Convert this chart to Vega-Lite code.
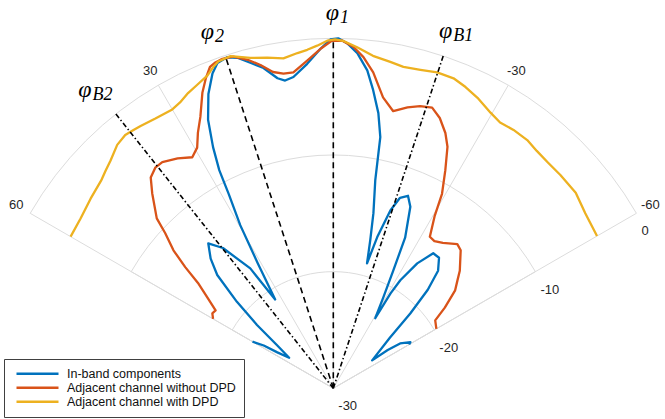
{
  "$schema": "https://vega.github.io/schema/vega-lite/v6.json",
  "width": 665,
  "height": 419,
  "autosize": "none",
  "padding": 0,
  "background": "white",
  "config": {"view": {"stroke": null}},
  "datasets": {
    "curves": [
      {"s":"In-band components","a":60,"v":-22.0},{"s":"In-band components","a":58.4,"v":-23.0},{"s":"In-band components","a":57.3,"v":-24.3},{"s":"In-band components","a":55.4,"v":-25.4},{"s":"In-band components","a":52.5,"v":-23.9},{"s":"In-band components","a":50.3,"v":-21.5},{"s":"In-band components","a":48.1,"v":-18.9},{"s":"In-band components","a":45.7,"v":-16.1},{"s":"In-band components","a":43.4,"v":-14.7},{"s":"In-band components","a":40.8,"v":-13.6},{"s":"In-band components","a":38.2,"v":-14.7},{"s":"In-band components","a":34.7,"v":-17.5},{"s":"In-band components","a":33.2,"v":-20.9},{"s":"In-band components","a":31.1,"v":-17.4},{"s":"In-band components","a":29.7,"v":-13.9},{"s":"In-band components","a":28.3,"v":-11.1},{"s":"In-band components","a":27.6,"v":-8.9},{"s":"In-band components","a":26.5,"v":-6.9},{"s":"In-band components","a":25.0,"v":-4.6},{"s":"In-band components","a":23.0,"v":-2.6},{"s":"In-band components","a":21.0,"v":-1.1},{"s":"In-band components","a":19.6,"v":-0.4},{"s":"In-band components","a":17.8,"v":-0.2},{"s":"In-band components","a":16.2,"v":-0.5},{"s":"In-band components","a":14.3,"v":-1.2},{"s":"In-band components","a":12.3,"v":-1.9},{"s":"In-band components","a":10.2,"v":-3.0},{"s":"In-band components","a":8.9,"v":-3.3},{"s":"In-band components","a":7.3,"v":-3.1},{"s":"In-band components","a":4.6,"v":-2.1},{"s":"In-band components","a":2.2,"v":-0.9},{"s":"In-band components","a":0.5,"v":-0.1},{"s":"In-band components","a":-0.8,"v":0},{"s":"In-band components","a":-2.3,"v":-0.4},{"s":"In-band components","a":-4.1,"v":-1.2},{"s":"In-band components","a":-6.1,"v":-2.6},{"s":"In-band components","a":-7.6,"v":-4.2},{"s":"In-band components","a":-9.3,"v":-6.1},{"s":"In-band components","a":-10.6,"v":-8.1},{"s":"In-band components","a":-11.4,"v":-11.8},{"s":"In-band components","a":-12.9,"v":-14.6},{"s":"In-band components","a":-14.0,"v":-16.9},{"s":"In-band components","a":-15.1,"v":-18.9},{"s":"In-band components","a":-16.2,"v":-16.5},{"s":"In-band components","a":-17.8,"v":-14.0},{"s":"In-band components","a":-19.3,"v":-12.7},{"s":"In-band components","a":-21.2,"v":-12.3},{"s":"In-band components","a":-23.0,"v":-13.1},{"s":"In-band components","a":-25.5,"v":-15.7},{"s":"In-band components","a":-27.0,"v":-18.7},{"s":"In-band components","a":-28.8,"v":-21.1},{"s":"In-band components","a":-30.9,"v":-23.0},{"s":"In-band components","a":-31.1,"v":-20.5},{"s":"In-band components","a":-31.8,"v":-19.1},{"s":"In-band components","a":-33.9,"v":-17.1},{"s":"In-band components","a":-36.5,"v":-15.6},{"s":"In-band components","a":-39.0,"v":-15.6},{"s":"In-band components","a":-41.7,"v":-16.5},{"s":"In-band components","a":-43.8,"v":-18.3},{"s":"In-band components","a":-45.8,"v":-20.8},{"s":"In-band components","a":-48.2,"v":-23.5},{"s":"In-band components","a":-54.3,"v":-25.9},{"s":"In-band components","a":-54.9,"v":-24.3},{"s":"In-band components","a":-56.1,"v":-23.1},{"s":"In-band components","a":-59.1,"v":-22.3},{"s":"In-band components","a":-60,"v":-22.5},
      {"s":"Adjacent channel without DPD","a":60,"v":-18.1},{"s":"Adjacent channel without DPD","a":58.2,"v":-17.8},{"s":"Adjacent channel without DPD","a":56.5,"v":-17.9},{"s":"Adjacent channel without DPD","a":54.2,"v":-16.7},{"s":"Adjacent channel without DPD","a":52.1,"v":-15.3},{"s":"Adjacent channel without DPD","a":50.7,"v":-13.6},{"s":"Adjacent channel without DPD","a":49.2,"v":-11.9},{"s":"Adjacent channel without DPD","a":47.3,"v":-10.4},{"s":"Adjacent channel without DPD","a":46.1,"v":-9.0},{"s":"Adjacent channel without DPD","a":42.9,"v":-7.2},{"s":"Adjacent channel without DPD","a":40.9,"v":-6.1},{"s":"Adjacent channel without DPD","a":38.9,"v":-5.7},{"s":"Adjacent channel without DPD","a":37.1,"v":-5.7},{"s":"Adjacent channel without DPD","a":34.1,"v":-6.2},{"s":"Adjacent channel without DPD","a":31.4,"v":-6.8},{"s":"Adjacent channel without DPD","a":29.5,"v":-6.3},{"s":"Adjacent channel without DPD","a":27.9,"v":-5.2},{"s":"Adjacent channel without DPD","a":26.1,"v":-4.1},{"s":"Adjacent channel without DPD","a":23.9,"v":-2.3},{"s":"Adjacent channel without DPD","a":22.4,"v":-1.3},{"s":"Adjacent channel without DPD","a":21.0,"v":-0.5},{"s":"Adjacent channel without DPD","a":19.9,"v":-0.3},{"s":"Adjacent channel without DPD","a":18.6,"v":-0.2},{"s":"Adjacent channel without DPD","a":16.8,"v":-0.3},{"s":"Adjacent channel without DPD","a":14.6,"v":-0.9},{"s":"Adjacent channel without DPD","a":12.7,"v":-1.6},{"s":"Adjacent channel without DPD","a":10.8,"v":-2.4},{"s":"Adjacent channel without DPD","a":9.0,"v":-2.7},{"s":"Adjacent channel without DPD","a":7.2,"v":-2.7},{"s":"Adjacent channel without DPD","a":4.5,"v":-1.8},{"s":"Adjacent channel without DPD","a":2.2,"v":-0.9},{"s":"Adjacent channel without DPD","a":0.2,"v":-0.2},{"s":"Adjacent channel without DPD","a":-1.5,"v":-0.2},{"s":"Adjacent channel without DPD","a":-3.4,"v":-0.7},{"s":"Adjacent channel without DPD","a":-5.2,"v":-1.5},{"s":"Adjacent channel without DPD","a":-7.2,"v":-2.7},{"s":"Adjacent channel without DPD","a":-9.7,"v":-4.7},{"s":"Adjacent channel without DPD","a":-12.2,"v":-5.7},{"s":"Adjacent channel without DPD","a":-14.8,"v":-5.1},{"s":"Adjacent channel without DPD","a":-17.1,"v":-4.7},{"s":"Adjacent channel without DPD","a":-19.4,"v":-4.5},{"s":"Adjacent channel without DPD","a":-21.5,"v":-5.1},{"s":"Adjacent channel without DPD","a":-23.7,"v":-6.1},{"s":"Adjacent channel without DPD","a":-25.3,"v":-7.1},{"s":"Adjacent channel without DPD","a":-27.2,"v":-9.0},{"s":"Adjacent channel without DPD","a":-29.2,"v":-10.9},{"s":"Adjacent channel without DPD","a":-30.5,"v":-12.9},{"s":"Adjacent channel without DPD","a":-32.5,"v":-14.6},{"s":"Adjacent channel without DPD","a":-34.5,"v":-14.7},{"s":"Adjacent channel without DPD","a":-37.0,"v":-14.4},{"s":"Adjacent channel without DPD","a":-40.7,"v":-13.7},{"s":"Adjacent channel without DPD","a":-42.7,"v":-13.9},{"s":"Adjacent channel without DPD","a":-47.1,"v":-15.2},{"s":"Adjacent channel without DPD","a":-49.0,"v":-15.9},{"s":"Adjacent channel without DPD","a":-51.2,"v":-16.6},{"s":"Adjacent channel without DPD","a":-54.1,"v":-18.2},{"s":"Adjacent channel without DPD","a":-56.3,"v":-19.5},{"s":"Adjacent channel without DPD","a":-60,"v":-19.8},
      {"s":"Adjacent channel with DPD","a":60,"v":-4.0},{"s":"Adjacent channel with DPD","a":56.1,"v":-3.9},{"s":"Adjacent channel with DPD","a":52.0,"v":-3.6},{"s":"Adjacent channel with DPD","a":48.2,"v":-3.3},{"s":"Adjacent channel with DPD","a":46.3,"v":-3.0},{"s":"Adjacent channel with DPD","a":44.4,"v":-2.7},{"s":"Adjacent channel with DPD","a":41.6,"v":-2.1},{"s":"Adjacent channel with DPD","a":39.4,"v":-1.9},{"s":"Adjacent channel with DPD","a":37.9,"v":-2.0},{"s":"Adjacent channel with DPD","a":36.3,"v":-2.1},{"s":"Adjacent channel with DPD","a":33.4,"v":-2.3},{"s":"Adjacent channel with DPD","a":30.0,"v":-2.4},{"s":"Adjacent channel with DPD","a":28.2,"v":-2.2},{"s":"Adjacent channel with DPD","a":26.2,"v":-1.8},{"s":"Adjacent channel with DPD","a":24.2,"v":-1.5},{"s":"Adjacent channel with DPD","a":21.9,"v":-1.1},{"s":"Adjacent channel with DPD","a":20.5,"v":-0.6},{"s":"Adjacent channel with DPD","a":19.4,"v":-0.3},{"s":"Adjacent channel with DPD","a":17.2,"v":-0.2},{"s":"Adjacent channel with DPD","a":14.1,"v":-0.8},{"s":"Adjacent channel with DPD","a":11.3,"v":-1.1},{"s":"Adjacent channel with DPD","a":8.6,"v":-1.4},{"s":"Adjacent channel with DPD","a":6.1,"v":-1.1},{"s":"Adjacent channel with DPD","a":4.4,"v":-0.9},{"s":"Adjacent channel with DPD","a":2.7,"v":-0.6},{"s":"Adjacent channel with DPD","a":1.0,"v":-0.2},{"s":"Adjacent channel with DPD","a":-0.3,"v":-0.1},{"s":"Adjacent channel with DPD","a":-1.6,"v":-0.2},{"s":"Adjacent channel with DPD","a":-4.0,"v":-0.7},{"s":"Adjacent channel with DPD","a":-6.8,"v":-1.3},{"s":"Adjacent channel with DPD","a":-9.9,"v":-1.6},{"s":"Adjacent channel with DPD","a":-12.3,"v":-1.8},{"s":"Adjacent channel with DPD","a":-15.3,"v":-1.7},{"s":"Adjacent channel with DPD","a":-18.2,"v":-1.5},{"s":"Adjacent channel with DPD","a":-21.2,"v":-1.5},{"s":"Adjacent channel with DPD","a":-23.7,"v":-1.8},{"s":"Adjacent channel with DPD","a":-26.4,"v":-2.2},{"s":"Adjacent channel with DPD","a":-29.7,"v":-2.8},{"s":"Adjacent channel with DPD","a":-32.1,"v":-3.1},{"s":"Adjacent channel with DPD","a":-34.9,"v":-3.0},{"s":"Adjacent channel with DPD","a":-38.0,"v":-3.0},{"s":"Adjacent channel with DPD","a":-40.6,"v":-3.2},{"s":"Adjacent channel with DPD","a":-43.6,"v":-3.3},{"s":"Adjacent channel with DPD","a":-46.8,"v":-3.3},{"s":"Adjacent channel with DPD","a":-51.1,"v":-3.3},{"s":"Adjacent channel with DPD","a":-55.2,"v":-3.7},{"s":"Adjacent channel with DPD","a":-60,"v":-3.9}
    ]
  },
  "layer": [
    {
      "data": {"values": [{"v": 0}, {"v": -10}, {"v": -20}]},
      "transform": [
        {"calculate": "(datum.v+30)/30", "as": "rn"},
        {"calculate": "0", "as": "x0"},
        {"calculate": "-PI/3", "as": "t0"},
        {"calculate": "PI/3", "as": "t1"}
      ],
      "mark": {"type": "arc", "filled": false, "stroke": "#dcdcdc", "strokeWidth": 1},
      "encoding": {
        "x": {"field": "x0", "type": "quantitative", "scale": {"domain": [-0.9523, 0.9477], "nice": false, "zero": false}, "axis": null},
        "y": {"field": "x0", "type": "quantitative", "scale": {"domain": [-0.0877, 1.1094], "nice": false, "zero": false}, "axis": null},
        "theta": {"field": "t0", "type": "quantitative", "scale": null, "stack": null},
        "theta2": {"field": "t1"},
        "radius": {"field": "rn", "type": "quantitative", "scale": {"type": "linear", "domain": [0, 1], "range": [0, 350]}}
      }
    },
    {
      "data": {"values": [{"a": 30}, {"a": -30}, {"a": 0}]},
      "transform": [
        {"calculate": "0", "as": "x0"},
        {"calculate": "-sin(datum.a*PI/180)", "as": "ex"},
        {"calculate": "cos(datum.a*PI/180)", "as": "ey"}
      ],
      "mark": {"type": "rule", "stroke": "#dcdcdc", "strokeWidth": 1},
      "encoding": {
        "x": {"field": "x0", "type": "quantitative", "scale": {"domain": [-0.9523, 0.9477], "nice": false, "zero": false}, "axis": null},
        "y": {"field": "x0", "type": "quantitative", "scale": {"domain": [-0.0877, 1.1094], "nice": false, "zero": false}, "axis": null},
        "x2": {"field": "ex"},
        "y2": {"field": "ey"}
      }
    },
    {
      "data": {"name": "curves"},
      "transform": [
        {"calculate": "(datum.v+30)/30", "as": "rn"},
        {"calculate": "-datum.rn*sin(datum.a*PI/180)", "as": "x"},
        {"calculate": "datum.rn*cos(datum.a*PI/180)", "as": "y"}
      ],
      "mark": {"type": "line", "strokeWidth": 2.3, "strokeJoin": "round"},
      "encoding": {
        "x": {"field": "x", "type": "quantitative", "scale": {"domain": [-0.9523, 0.9477], "nice": false, "zero": false}, "axis": null},
        "y": {"field": "y", "type": "quantitative", "scale": {"domain": [-0.0877, 1.1094], "nice": false, "zero": false}, "axis": null},
        "order": {"field": "a", "type": "quantitative", "sort": "descending"},
        "color": {
          "field": "s", "type": "nominal",
          "scale": {"domain": ["In-band components", "Adjacent channel without DPD", "Adjacent channel with DPD"], "range": ["#0072BD", "#D95319", "#EDB120"]},
          "legend": {
            "orient": "none", "legendX": 4, "legendY": 359, "title": null,
            "symbolType": "stroke", "symbolSize": 1764, "symbolStrokeWidth": 2.5,
            "clipHeight": 13.5, "rowPadding": 0, "padding": 8,
            "labelFont": "Liberation Sans", "labelFontSize": 12.5, "labelColor": "#111111",
            "labelOffset": 7, "symbolOffset": 3, "labelLimit": 400,
            "strokeColor": "#404040", "fillColor": "white"
          }
        }
      }
    },
    {
      "data": {"values": [{"a": 0, "k": "dash"}, {"a": 18, "k": "dash"}, {"a": -18.3, "k": "dashdot"}, {"a": 38.4, "k": "dashdot"}]},
      "transform": [
        {"calculate": "0", "as": "x0"},
        {"calculate": "-sin(datum.a*PI/180)", "as": "ex"},
        {"calculate": "cos(datum.a*PI/180)", "as": "ey"}
      ],
      "mark": {"type": "rule", "color": "black", "strokeWidth": 1.6},
      "encoding": {
        "x": {"field": "x0", "type": "quantitative", "scale": {"domain": [-0.9523, 0.9477], "nice": false, "zero": false}, "axis": null},
        "y": {"field": "x0", "type": "quantitative", "scale": {"domain": [-0.0877, 1.1094], "nice": false, "zero": false}, "axis": null},
        "x2": {"field": "ex"},
        "y2": {"field": "ey"},
        "strokeDash": {"field": "k", "type": "nominal", "scale": {"domain": ["dash", "dashdot"], "range": [[6, 4], [5, 2.5, 1.5, 2.5]]}, "legend": null}
      }
    },
    {
      "data": {"values": [{"t": "60", "a": 60}, {"t": "30", "a": 30}, {"t": "-30", "a": -30}, {"t": "-60", "a": -60}]},
      "transform": [
        {"calculate": "-1.0457*sin(datum.a*PI/180)", "as": "x"},
        {"calculate": "1.0457*cos(datum.a*PI/180)", "as": "y"}
      ],
      "mark": {"type": "text", "font": "Liberation Sans", "fontSize": 13, "color": "#262626", "align": "center", "baseline": "middle"},
      "encoding": {
        "x": {"field": "x", "type": "quantitative", "scale": {"domain": [-0.9523, 0.9477], "nice": false, "zero": false}, "axis": null},
        "y": {"field": "y", "type": "quantitative", "scale": {"domain": [-0.0877, 1.1094], "nice": false, "zero": false}, "axis": null},
        "text": {"field": "t", "type": "nominal"}
      }
    },
    {
      "data": {"values": [{"v": 0}, {"v": -10}, {"v": -20}, {"v": -30}]},
      "transform": [
        {"calculate": "(datum.v+30)/30", "as": "rn"},
        {"calculate": "datum.rn*sin(PI/3)", "as": "x"},
        {"calculate": "datum.rn*cos(PI/3)", "as": "y"}
      ],
      "mark": {"type": "text", "font": "Liberation Sans", "fontSize": 13, "color": "#262626", "align": "left", "baseline": "middle", "dx": 5, "dy": 18},
      "encoding": {
        "x": {"field": "x", "type": "quantitative", "scale": {"domain": [-0.9523, 0.9477], "nice": false, "zero": false}, "axis": null},
        "y": {"field": "y", "type": "quantitative", "scale": {"domain": [-0.0877, 1.1094], "nice": false, "zero": false}, "axis": null},
        "text": {"field": "v", "type": "nominal"}
      }
    },
    {
      "data": {"values": [{"a": -0.9, "v": 1.7, "sub": "1"}, {"a": 18.8, "v": 1.7, "sub": "2"}, {"a": -18.7, "v": 1.8, "sub": "B1"}, {"a": 39.6, "v": 2.5, "sub": "B2"}]},
      "transform": [
        {"calculate": "(datum.v+30)/30", "as": "rn"},
        {"calculate": "-datum.rn*sin(datum.a*PI/180)", "as": "x"},
        {"calculate": "datum.rn*cos(datum.a*PI/180)", "as": "y"},
        {"calculate": "'φ'", "as": "phi"}
      ],
      "mark": {"type": "text", "font": "Liberation Serif", "fontStyle": "italic", "fontSize": 24, "color": "black", "align": "right", "baseline": "alphabetic", "dy": 1},
      "encoding": {
        "x": {"field": "x", "type": "quantitative", "scale": {"domain": [-0.9523, 0.9477], "nice": false, "zero": false}, "axis": null},
        "y": {"field": "y", "type": "quantitative", "scale": {"domain": [-0.0877, 1.1094], "nice": false, "zero": false}, "axis": null},
        "text": {"field": "phi", "type": "nominal"}
      }
    },
    {
      "data": {"values": [{"a": -0.9, "v": 1.7, "sub": "1"}, {"a": 18.8, "v": 1.7, "sub": "2"}, {"a": -18.7, "v": 1.8, "sub": "B1"}, {"a": 39.6, "v": 2.5, "sub": "B2"}]},
      "transform": [
        {"calculate": "(datum.v+30)/30", "as": "rn"},
        {"calculate": "-datum.rn*sin(datum.a*PI/180)", "as": "x"},
        {"calculate": "datum.rn*cos(datum.a*PI/180)", "as": "y"}
      ],
      "mark": {"type": "text", "font": "Liberation Serif", "fontStyle": "italic", "fontSize": 18, "color": "black", "align": "left", "baseline": "alphabetic", "dx": 1, "dy": 4},
      "encoding": {
        "x": {"field": "x", "type": "quantitative", "scale": {"domain": [-0.9523, 0.9477], "nice": false, "zero": false}, "axis": null},
        "y": {"field": "y", "type": "quantitative", "scale": {"domain": [-0.0877, 1.1094], "nice": false, "zero": false}, "axis": null},
        "text": {"field": "sub", "type": "nominal"}
      }
    }
  ]
}
